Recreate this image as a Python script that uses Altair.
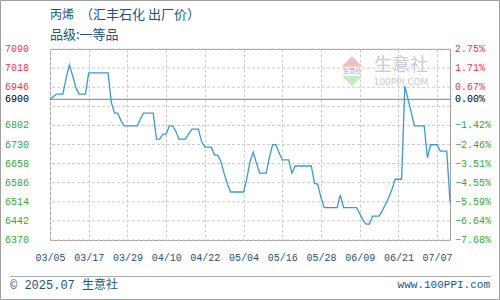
import json
import altair as alt
import pandas as pd

# ---------------- data ----------------
values = [
    6900, 6910, 6920, 6920, 6920, 6980, 7030, 6990, 6945, 6920,
    6920, 6920, 7000, 7000, 7000, 7000, 7000, 7000, 7000, 6890,
    6848, 6848, 6820, 6800, 6800, 6800, 6800, 6800, 6825, 6848,
    6848, 6848, 6848, 6750, 6750, 6769, 6769, 6800, 6800, 6780,
    6750, 6750, 6750, 6770, 6788, 6788, 6788, 6740, 6720, 6720,
    6720, 6690, 6690, 6665, 6620, 6580, 6551, 6551, 6551, 6551,
    6551, 6600, 6665, 6701, 6660, 6622, 6622, 6622, 6680, 6729,
    6729, 6700, 6672, 6672, 6672, 6622, 6649, 6649, 6649, 6649,
    6649, 6649, 6584, 6580, 6530, 6492, 6492, 6492, 6492, 6492,
    6540, 6492, 6492, 6492, 6492, 6492, 6470, 6445, 6430, 6430,
    6460, 6460, 6460, 6480, 6505, 6530, 6560, 6599, 6599, 6599,
    6951, 6900, 6850, 6800, 6800, 6800, 6800, 6680, 6729, 6729,
    6729, 6705, 6705, 6705, 6514,
]
tick_pos = [0, 12, 24, 36, 48, 60, 72, 84, 96, 108, 120]
tick_labels = ["03/05", "03/17", "03/29", "04/10", "04/22", "05/04",
               "05/16", "05/28", "06/09", "06/21", "07/07"]
grid_levels = [7090, 7018, 6946, 6874, 6802, 6730, 6658, 6586, 6514, 6442, 6370]
label_levels = [7090, 7018, 6946, 6900, 6802, 6730, 6658, 6586, 6514, 6442, 6370]
base_price = 6900
y_min, y_max = 6370, 7090
x_max = 124

title_product = "丙烯"
title_source = "（汇丰石化 出厂价）"
subtitle_text = "品级:一等品"
footer_left = "© 2025.07 生意社"
footer_right = "www.100PPI.com"
wm_name = "生意社"
wm_url = "100PPI.COM"

# ---------------- styling ----------------
MONO = "Liberation Mono, DejaVu Sans Mono, Noto Sans CJK SC"
CJK = "Noto Sans CJK SC"
BLUE_TXT = "#1b5585"
RED = "#ff3333"
GREEN = "#33aa33"

df = pd.DataFrame({"i": list(range(len(values))), "v": values})
grid_df = pd.DataFrame({"g": grid_levels})
lab_df = pd.DataFrame({"v": label_levels})
base_df = pd.DataFrame({"v": [base_price]})
one = pd.DataFrame({"k": [0]})

yscale = alt.Scale(domain=[y_min, y_max], nice=False, zero=False)
xscale = alt.Scale(domain=[0, x_max], nice=False, zero=False)

label_expr = f"{json.dumps(tick_labels)}[indexof({json.dumps(tick_pos)}, datum.value)]"

hgrid = alt.Chart(grid_df).mark_rule(color="#cccccc", strokeDash=[3, 2], strokeWidth=1).encode(
    y=alt.Y("g:Q", scale=yscale, axis=None)
)

baseline = alt.Chart(base_df).mark_rule(color="#999999", strokeWidth=1.2).encode(
    y=alt.Y("v:Q", scale=yscale, axis=None)
)

line = alt.Chart(df).mark_line(color="#3a9ad9", strokeWidth=1.3).encode(
    x=alt.X("i:Q", scale=xscale, axis=alt.Axis(
        values=tick_pos, labelExpr=label_expr, title=None,
        grid=True, gridDash=[3, 2], gridColor="#cccccc",
        domain=False, ticks=False, tickSize=0, labelPadding=12,
        labelFont=MONO, labelFontSize=10, labelColor="#1f4f7f",
        labelAngle=0, labelFlush=False, labelOverlap=False)),
    y=alt.Y("v:Q", scale=yscale, axis=None),
)

color_expr = f"datum.v > {base_price} ? '{RED}' : (datum.v < {base_price} ? '{GREEN}' : '#000000')"

left_labels = alt.Chart(lab_df).transform_calculate(
    txt="'' + datum.v", col=color_expr
).mark_text(align="left", baseline="middle", font=MONO, fontSize=10).encode(
    x=alt.value(-45),
    y=alt.Y("v:Q", scale=yscale, axis=None),
    text="txt:N",
    color=alt.Color("col:N", scale=None),
)

right_labels = alt.Chart(lab_df).transform_calculate(
    txt=f"format((datum.v - {base_price}) / {base_price} * 100, '.2f') + '%'",
    col=color_expr,
).mark_text(align="left", baseline="middle", font=MONO, fontSize=10).encode(
    x=alt.value(405),
    y=alt.Y("v:Q", scale=yscale, axis=None),
    text="txt:N",
    color=alt.Color("col:N", scale=None),
)

def deco_text(text, x, y, **kw):
    return alt.Chart(one).mark_text(**kw).encode(
        x=alt.value(x), y=alt.value(y), text=alt.value(text)
    )

title1 = deco_text(title_product, 0, -34, align="left", baseline="middle",
                   font=CJK, fontSize=12, color=BLUE_TXT)
title2 = deco_text(title_source, 30, -34, align="left", baseline="middle",
                   font=CJK, fontSize=13, color=BLUE_TXT)
subtitle = deco_text(subtitle_text, 0, -14, align="left", baseline="middle",
                     font=CJK, fontSize=13, color=BLUE_TXT)

# watermark
tri_up = alt.Chart(one).mark_point(
    shape="M-1,0.5L0,-0.5L1,0.5Z", filled=True, color="#f4bcbc", opacity=1, size=441
).encode(x=alt.value(302), y=alt.value(12.5))
tri_dn = alt.Chart(one).mark_point(
    shape="M-1,-0.5L1,-0.5L0,0.5Z", filled=True, color="#c6ebc6", opacity=1, size=441
).encode(x=alt.value(302), y=alt.value(32))
wm_small = deco_text(wm_name, 302, 22, align="center", baseline="middle",
                     font=CJK, fontSize=6, color="#a0a8c0")
wm1 = deco_text(wm_name, 351, 16.5, align="center", baseline="middle",
                font=CJK, fontSize=18, color="#c6c9e0")
wm2 = deco_text(wm_url, 351, 32.5, align="center", baseline="middle",
                font="DejaVu Sans", fontSize=9, color="#c8c8d6")

# footer
sep = alt.Chart(one).mark_rule(color="#aaaaaa", strokeWidth=1).encode(
    x=alt.value(-40), x2=alt.value(441), y=alt.value(227.5)
)
foot_l = deco_text(footer_left, -40, 236, align="left", baseline="middle",
                   font=MONO, fontSize=12, color=BLUE_TXT)
foot_r = deco_text(footer_right, 440, 236, align="right", baseline="middle",
                   font=MONO, fontSize=11, color=BLUE_TXT)

outer = alt.Chart(one).mark_rect(fill="transparent", stroke="#a0a0a0", strokeWidth=1).encode(
    x=alt.value(-49.5), x2=alt.value(449.5), y=alt.value(-48.5), y2=alt.value(250.5)
)

chart = alt.layer(
    hgrid, baseline, tri_up, tri_dn, wm_small, wm1, wm2, line,
    left_labels, right_labels, title1, title2, subtitle, sep, foot_l, foot_r, outer
).properties(
    width=400, height=191,
    autosize=alt.AutoSizeParams(type="none"),
    padding={"left": 50, "top": 49, "right": 50, "bottom": 60},
    background="white",
).configure_view(stroke="#a0a0a0", strokeWidth=1)

chart.save("out.html", embed_options={"renderer": "svg", "actions": False})
